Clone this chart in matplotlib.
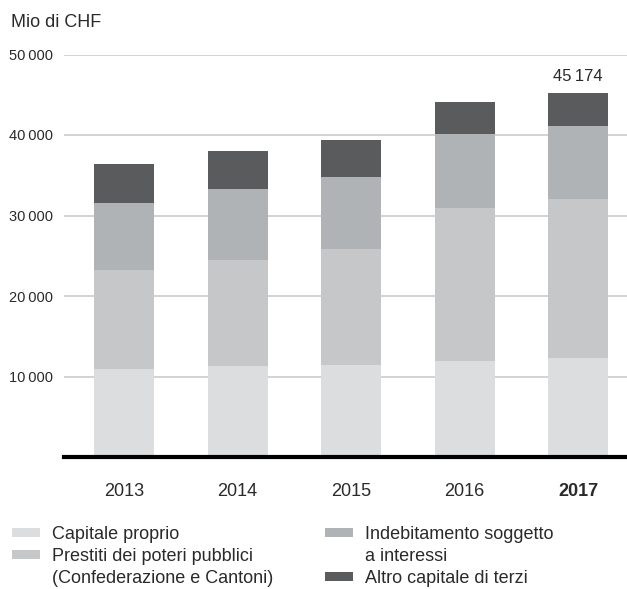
import matplotlib
matplotlib.use("Agg")
import matplotlib.pyplot as plt
from matplotlib.patches import Rectangle
import numpy as np

plt.rcParams['font.family'] = ['Liberation Sans', 'DejaVu Sans']

years = ["2013", "2014", "2015", "2016", "2017"]
capitale_proprio = [10960, 11330, 11460, 11960, 12330]
prestiti_pubblici = [12330, 13200, 14440, 18960, 19670]
indebitamento = [8220, 8720, 8840, 9180, 9100]
altro_capitale = [4850, 4730, 4610, 3980, 4074]
total_label = "45\u2009174"

series_labels = ["Capitale proprio",
                 "Prestiti dei poteri pubblici\n(Confederazione e Cantoni)",
                 "Indebitamento soggetto\na interessi",
                 "Altro capitale di terzi"]
colors = ["#dcdddf", "#c6c7c9", "#b0b3b6", "#5a5b5d"]
yticks = [10000, 20000, 30000, 40000, 50000]
ytick_labels = ["10\u2009000", "20\u2009000", "30\u2009000", "40\u2009000", "50\u2009000"]

TXT = "#2a2a2a"
W, H = 627, 589
fig = plt.figure(figsize=(W / 100, H / 100), dpi=100)
ax = fig.add_axes([64 / W, 1 - 457 / H, 563 / W, (457 - 54.5) / H])

x = np.arange(len(years))
series = [capitale_proprio, prestiti_pubblici, indebitamento, altro_capitale]
bottom = np.zeros(len(years))
for vals, c in zip(series, colors):
    ax.bar(x, vals, bottom=bottom, width=0.529, color=c, zorder=2, linewidth=0)
    bottom += np.array(vals)

ax.text(x[-1], bottom[-1] + 1100, total_label, ha='center', va='bottom',
        fontsize=12, color=TXT)

ax.set_xlim(-0.529, 4.43)
ax.set_ylim(0, 50000)
for yv in yticks:
    ax.axhline(yv, color="#d0d0d0", lw=1.3, zorder=1)
ax.axhline(0, color="black", lw=3, zorder=3, clip_on=False)
for s in ax.spines.values():
    s.set_visible(False)
ax.set_yticks(yticks)
ax.set_yticklabels(ytick_labels, fontsize=10.5, color=TXT)
ax.tick_params(axis='y', length=0, pad=8)
ax.set_xticks(x)
ax.set_xticklabels(years, fontsize=13, color=TXT)
ax.get_xticklabels()[-1].set_fontweight('bold')
ax.tick_params(axis='x', length=0, pad=19)

fig.text(11 / W, 1 - 27 / H, "Mio di CHF", fontsize=13, color=TXT, va='baseline', ha='left')

# legend
leg_pos = [(12, 532.5), (12, 554.5), (325, 532.5), (325, 576.5)]
for (px, py), lab, c in zip(leg_pos, series_labels, colors):
    fig.patches.append(Rectangle((px / W, 1 - (py + 4.5) / H), 28 / W, 9 / H,
                                 transform=fig.transFigure, color=c, lw=0))
    for i, line in enumerate(lab.split("\n")):
        fig.text((px + 40) / W, 1 - (py + 6.5 + 22 * i) / H, line, fontsize=13,
                 color=TXT, va='baseline', ha='left')

fig.savefig("out.png", dpi=100)
